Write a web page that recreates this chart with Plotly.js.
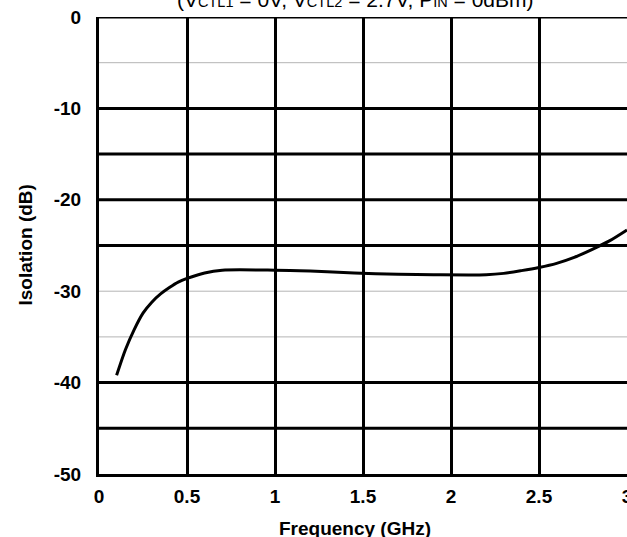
<!DOCTYPE html>
<html>
<head>
<meta charset="utf-8">
<script src="https://cdn.plot.ly/plotly-3.0.1.min.js"></script>
<style>html,body{margin:0;padding:0;background:#fff;}#chart{width:627px;height:537px;}</style>
</head>
<body>
<div id="chart"></div>
<script>
// Data
const freqGHz = [0.1, 0.15, 0.2, 0.25, 0.3, 0.35, 0.4, 0.45, 0.5, 0.6, 0.7, 1.0, 1.2, 1.45, 1.7, 1.9, 2.2, 2.3, 2.4, 2.5, 2.6, 2.7, 2.8, 2.9, 3.0];
const isolationDb = [-39.2, -36.4, -34.2, -32.4, -31.2, -30.3, -29.6, -29.0, -28.6, -28.0, -27.7, -27.7, -27.8, -28.0, -28.15, -28.2, -28.2, -28.05, -27.75, -27.4, -26.95, -26.3, -25.45, -24.5, -23.3];
const xTickVals = [0, 0.5, 1, 1.5, 2, 2.5, 3];
const xTickText = ['0', '0.5', '1', '1.5', '2', '2.5', '3'];
const yTickVals = [0, -10, -20, -30, -40, -50];
const yTickText = ['0', '-10', '-20', '-30', '-40', '-50'];
const darkGridLevels = [0, -10, -15, -20, -25, -40, -45];
const lightGridLevels = [-5, -30, -35];
const subStyle = 'font-size:14.5px';
const titleText = '(V<span style="' + subStyle + '">CTL1</span> = 0V, V<span style="' + subStyle + '">CTL2</span> = 2.7V, P<span style="' + subStyle + '">IN</span> = 0dBm)';
const xTitle = 'Frequency (GHz)';
const yTitle = 'Isolation (dB)';

const FONT = 'Liberation Sans, Arial, sans-serif';
const shapes = [];
lightGridLevels.forEach(v => shapes.push({type:'line', xref:'paper', x0:0, x1:1, yref:'y', y0:v, y1:v, layer:'below', line:{color:'#b4b4b4', width:1}}));
darkGridLevels.forEach(v => shapes.push({type:'line', xref:'paper', x0:0, x1:1, yref:'y', y0:v, y1:v, layer:'below', line:{color:'#000', width:3}}));

const trace = {x: freqGHz, y: isolationDb, type:'scatter', mode:'lines', line:{color:'#000', width:3, shape:'spline', smoothing:0.8}, hoverinfo:'skip'};

const layout = {
  width: 627, height: 537,
  margin: {l: 99, r: 0, t: 17, b: 63},
  paper_bgcolor: '#fff', plot_bgcolor: '#fff',
  showlegend: false,
  font: {family: FONT, color: '#000'},
  xaxis: {
    range: [0, 3], tickvals: xTickVals, ticktext: xTickText,
    showgrid: true, gridcolor: '#000', gridwidth: 3,
    showline: true, linecolor: '#000', linewidth: 3,
    zeroline: false, ticks: '', ticklabelstandoff: 3, ticklabeloverflow: 'allow',
    tickfont: {family: FONT, size: 19, color: '#000', weight: 'bold'}
  },
  yaxis: {
    range: [-50, 0], tickvals: yTickVals, ticktext: yTickText,
    showgrid: false, mirror: true,
    showline: true, linecolor: '#000', linewidth: 3,
    zeroline: false, ticks: '', ticklabelstandoff: 11,
    tickfont: {family: FONT, size: 19, color: '#000', weight: 'bold'}
  },
  shapes: shapes,
  annotations: [
    {text: titleText, xref:'paper', x: (355-99)/528, yref:'paper', y: 1, yshift: 4, yanchor:'bottom', xanchor:'center', showarrow:false, font:{family: FONT, size: 21, color:'#000'}},
    {text: xTitle, xref:'paper', x: (355-99)/528, yref:'paper', y: 0, yshift: -42, yanchor:'top', xanchor:'center', showarrow:false, font:{family: FONT, size: 19, color:'#000', weight:'bold'}},
    {text: yTitle, xref:'paper', x: 0, xshift: -74, yref:'paper', y: 0.5, textangle: -90, xanchor:'center', yanchor:'middle', showarrow:false, font:{family: FONT, size: 19, color:'#000', weight:'bold'}}
  ]
};

Plotly.newPlot('chart', [trace], layout, {staticPlot: true, displayModeBar: false});
</script>
</body>
</html>
